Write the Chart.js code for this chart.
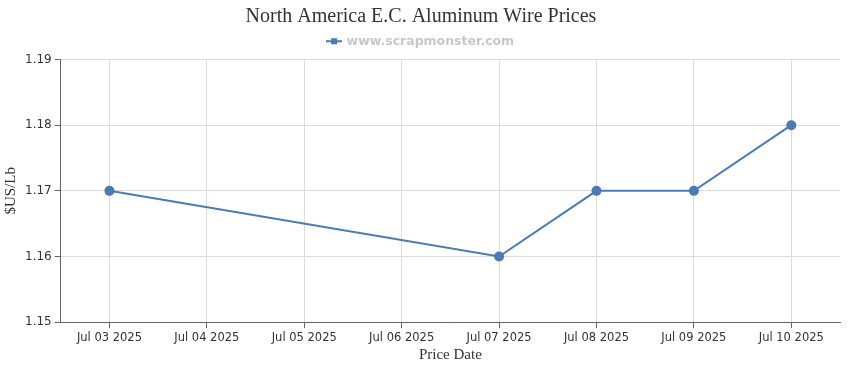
<!DOCTYPE html>
<html>
<head>
<meta charset="utf-8">
<script src="https://cdn.jsdelivr.net/npm/chart.js@4/dist/chart.umd.min.js"></script>
<style>
  html, body { margin: 0; padding: 0; background: #fff; }
  #wrap { width: 850px; height: 370px; }
</style>
</head>
<body>
<div id="wrap"><canvas id="chart"></canvas></div>
<script>
'use strict';

const dateLabels = ['Jul 03 2025', 'Jul 04 2025', 'Jul 05 2025', 'Jul 06 2025',
  'Jul 07 2025', 'Jul 08 2025', 'Jul 09 2025', 'Jul 10 2025'];
const priceValues = [1.17, null, null, null, 1.16, 1.17, 1.17, 1.18];
const seriesName = 'www.scrapmonster.com';
const lineColor = '#4a7bb7';

function legendMarker() {
  const c = document.createElement('canvas');
  c.width = 16;
  c.height = 8;
  const ctx = c.getContext('2d');
  ctx.strokeStyle = lineColor;
  ctx.lineWidth = 2;
  ctx.beginPath();
  ctx.moveTo(0, 4);
  ctx.lineTo(16, 4);
  ctx.stroke();
  ctx.fillStyle = lineColor;
  ctx.fillRect(5, 1, 6, 6);
  return c;
}

// a bit more room between the legend and the plot
const legendGap = {
  id: 'legendGap',
  beforeInit(chart) {
    const fit = chart.legend.fit;
    chart.legend.fit = function () {
      fit.call(this);
      this.height += 2;
    };
  }
};

function onContentLoad() {
  const canvas = document.getElementById('chart');
  const marker = legendMarker();

  new Chart(canvas.getContext('2d'), {
    type: 'line',
    data: {
      labels: dateLabels,
      datasets: [{
        label: seriesName,
        data: priceValues,
        borderColor: lineColor,
        backgroundColor: lineColor,
        borderWidth: 2,
        pointStyle: 'circle',
        pointRadius: 4,
        pointHoverRadius: 5,
        spanGaps: true,
        tension: 0
      }]
    },
    plugins: [legendGap],
    options: {
      responsive: true,
      maintainAspectRatio: false,
      animation: false,
      layout: { padding: { left: 2, right: 10, top: 0, bottom: 6 } },
      plugins: {
        title: {
          display: true,
          text: 'North America E.C. Aluminum Wire Prices',
          color: '#333',
          font: { family: '"Liberation Serif", serif', size: 20, weight: 'normal' },
          padding: { top: 5, bottom: 0 }
        },
        legend: {
          display: true,
          labels: {
            color: '#c8c8c8',
            font: { family: '"DejaVu Sans", Verdana, sans-serif', size: 12.5, weight: 'bold' },
            usePointStyle: true,
            boxWidth: 16,
            boxHeight: 8,
            padding: 6,
            generateLabels: chart => [{
              text: seriesName,
              pointStyle: marker,
              fontColor: '#c8c8c8',
              datasetIndex: 0
            }]
          }
        },
        tooltip: { enabled: true }
      },
      scales: {
        x: {
          type: 'category',
          offset: true,
          grid: { offset: false, color: '#dcdcdc', tickColor: '#666', tickLength: 6 },
          border: { color: '#666', width: 1 },
          ticks: {
            color: '#333',
            font: { family: '"DejaVu Sans", Verdana, sans-serif', size: 11.5 },
            maxRotation: 0,
            autoSkip: false
          },
          title: {
            display: true,
            text: 'Price Date',
            color: '#333',
            font: { family: '"Liberation Serif", serif', size: 15 },
            padding: { top: -2, bottom: 0 }
          }
        },
        y: {
          min: 1.15,
          max: 1.19,
          grid: { color: '#dcdcdc', tickColor: '#666', tickLength: 6 },
          border: { color: '#666', width: 1 },
          ticks: {
            stepSize: 0.01,
            color: '#333',
            font: { family: '"DejaVu Sans", Verdana, sans-serif', size: 12 },
            callback: v => v.toFixed(2)
          },
          title: {
            display: true,
            text: '$US/Lb',
            color: '#333',
            font: { family: '"Liberation Serif", serif', size: 15 },
            padding: { top: 0, bottom: 2 }
          }
        }
      }
    }
  });
}

document.addEventListener('DOMContentLoaded', onContentLoad);
</script>
</body>
</html>
